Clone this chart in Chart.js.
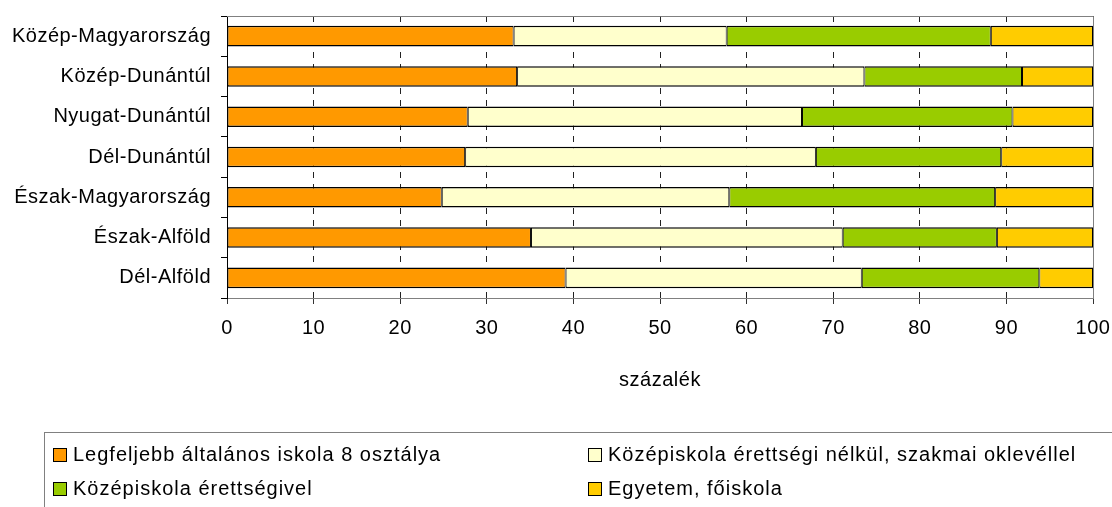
<!DOCTYPE html>
<html>
<head>
<meta charset="utf-8">
<script src="https://cdn.jsdelivr.net/npm/chart.js@4/dist/chart.umd.min.js"></script>
<style>
    html, body { margin: 0; padding: 0; background: #fff; overflow: hidden; }
    #wrap { position: relative; width: 1112px; height: 507px; }
    #legend {
        position: absolute; left: 44px; top: 432px; width: 1100px; height: 120px;
        border: 1px solid #808080; box-sizing: border-box;
        font-family: "Liberation Sans", Arial, sans-serif; font-size: 20px; color: #000;
        letter-spacing: 1px;
    }
    .item { position: absolute; display: flex; align-items: center; white-space: nowrap; }
    .sw { width: 12px; height: 12px; border: 1px solid #000; margin-right: 6px; }
</style>
</head>
<body>
<div id="wrap">
    <canvas id="chart" width="1112" height="507"></canvas>
    <div id="legend"></div>
</div>
<script>
const categories = ['Közép-Magyarország', 'Közép-Dunántúl', 'Nyugat-Dunántúl', 'Dél-Dunántúl',
    'Észak-Magyarország', 'Észak-Alföld', 'Dél-Alföld'];

const seriesNames = ['Legfeljebb általános iskola 8 osztálya',
    'Középiskola érettségi nélkül, szakmai oklevéllel',
    'Középiskola érettségivel',
    'Egyetem, főiskola'];

const elemi = [33.1, 33.5, 27.8, 27.5, 24.8, 35.1, 39.1];
const szakmai = [24.6, 40.1, 38.6, 40.5, 33.2, 36.0, 34.2];
const erettsegi = [30.5, 18.2, 24.3, 21.4, 30.7, 17.8, 20.5];
const felsofok = [11.8, 8.2, 9.3, 10.6, 11.3, 11.1, 6.2];

const colors = ['#FF9900', '#FFFFCC', '#99CC00', '#FFCC00'];
const xTitle = 'százalék';

const font = { family: '"Liberation Sans", Arial, sans-serif', size: 20 };

// slightly wider text, like the original rendering
const spacing = {
    id: 'spacing',
    beforeDraw(chart) { chart.ctx.letterSpacing = '0.5px'; }
};

// gray frame on top and right of the plot area
const frame = {
    id: 'frame',
    afterDraw(chart) {
        const { ctx, chartArea: a } = chart;
        ctx.save();
        ctx.strokeStyle = '#808080';
        ctx.lineWidth = 1;
        ctx.beginPath();
        ctx.moveTo(a.left, a.top + 0.5);
        ctx.lineTo(a.right + 0.5, a.top + 0.5);
        ctx.lineTo(a.right + 0.5, a.bottom);
        ctx.stroke();
        ctx.restore();
    }
};

const values = [elemi, szakmai, erettsegi, felsofok];

new Chart(document.getElementById('chart'), {
    type: 'bar',
    data: {
        labels: categories,
        datasets: values.map((d, i) => ({
            label: seriesNames[i],
            data: d,
            backgroundColor: colors[i],
            borderColor: '#000',
            borderWidth: { top: 1.5, bottom: 1.5, left: 1, right: 1 },
            borderSkipped: false,
            categoryPercentage: 1,
            barPercentage: 0.51
        }))
    },
    options: {
        indexAxis: 'y',
        responsive: false,
        animation: false,
        layout: { padding: { top: 16, right: 19, bottom: 115, left: 0 } },
        plugins: { legend: { display: false }, tooltip: { enabled: false } },
        scales: {
            x: {
                stacked: true,
                min: 0,
                max: 100,
                ticks: { stepSize: 10, color: '#000', font, padding: 12 },
                grid: { color: '#222', tickColor: '#333', tickLength: 6 },
                border: { color: '#808080', dash: [6, 6] },
                title: { display: true, text: xTitle, color: '#000', font, padding: { top: 16, bottom: 0 } },
                afterFit(scale) { scale.paddingLeft = 0; scale.paddingRight = 0; }
            },
            y: {
                stacked: true,
                ticks: { color: '#000', font, padding: 10 },
                grid: { offset: true, drawOnChartArea: false, tickColor: '#000', tickLength: 6 },
                border: { color: '#000' },
                afterFit(scale) {
                    scale.width = 227;
                    scale.paddingTop = 0;
                    scale.paddingBottom = 0;
                }
            }
        }
    },
    plugins: [spacing, frame]
});

// legend in two columns
const legend = document.getElementById('legend');
const pos = [[8, 10], [543, 10], [8, 44], [543, 44]];
seriesNames.forEach((name, i) => {
    const el = document.createElement('div');
    el.className = 'item';
    el.style.left = pos[i][0] + 'px';
    el.style.top = pos[i][1] + 'px';
    el.innerHTML = '<span class="sw" style="background:' + colors[i] + '"></span><span>' + name + '</span>';
    legend.appendChild(el);
});
</script>
</body>
</html>
